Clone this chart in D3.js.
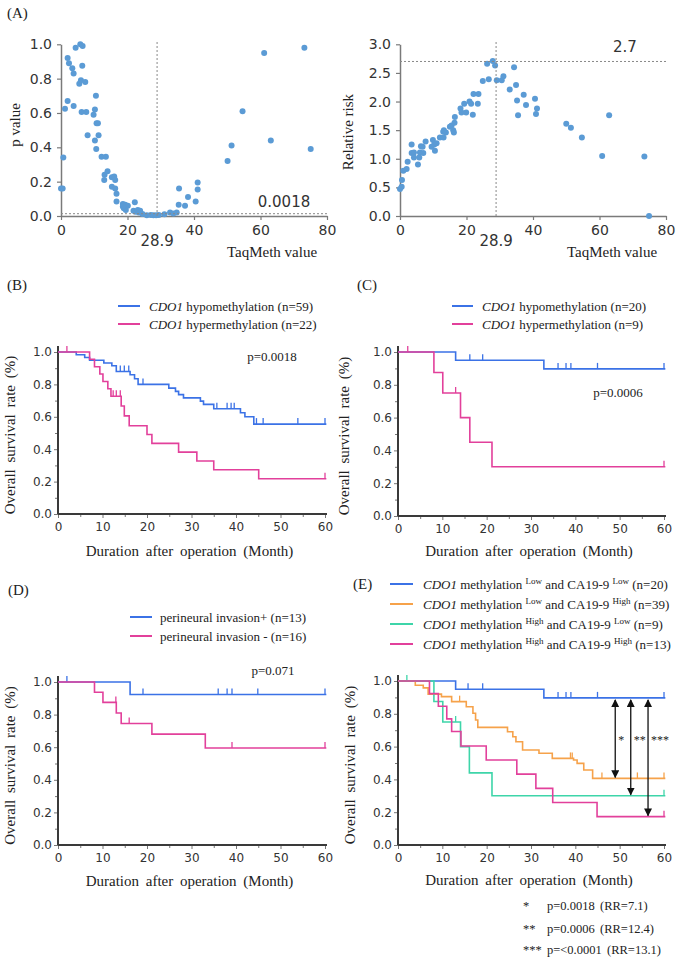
<!DOCTYPE html>
<html><head><meta charset="utf-8">
<script src="https://cdn.jsdelivr.net/npm/d3@7"></script>
<style>
body{margin:0;background:#fff;}
svg{display:block;}
</style></head><body>
<svg id="c" width="677" height="960"></svg>
<script>
// ---------- Panel A data ----------
const pTaq = [0,0.5,0.7,1.2,2.0,2.0,2.4,3.4,3.8,3.8,4.4,5.5,5.8,6.0,6.5,6.4,6.2,7.3,7.6,8.0,9.8,10.2,10.5,10.2,10.7,11.1,10.6,11.3,12.2,13.5,13.1,13.0,14.0,15.3,16.0,16.3,15.3,16.3,16.7,16.7,18.6,19.3,20.1,18.9,19.5,18.6,21.8,22.2,22.4,23.1,23.4,23.8,24.5,25.8,27.0,27.8,28.6,29.4,31.1,32.8,33.8,34.8,35.5,35.4,37.3,38.2,40.5,41.1,41.1,50.1,51.3,54.6,61.1,63.1,73.2,75.1];
const pVal = [0.16,0.16,0.34,0.625,0.67,0.92,0.89,0.86,0.83,0.64,0.98,0.77,1.0,0.79,0.99,0.875,0.605,0.78,0.605,0.47,0.59,0.62,0.70,0.44,0.54,0.54,0.39,0.47,0.345,0.345,0.24,0.21,0.26,0.225,0.23,0.21,0.17,0.16,0.13,0.085,0.07,0.065,0.06,0.045,0.035,0.055,0.03,0.08,0.025,0.035,0.02,0.03,0.012,0.004,0.006,0.004,0.004,0.006,0.01,0.02,0.015,0.02,0.16,0.065,0.06,0.11,0.085,0.195,0.155,0.32,0.41,0.61,0.95,0.44,0.98,0.39];
const rrTaq = [0,0.5,0.6,1.0,2.0,2.3,3.5,3.5,4.2,4.2,5.4,5.8,6.0,6.3,6.8,7.0,7.7,9.5,9.9,10.3,10.5,11.0,12.0,13.1,13.0,13.2,13.8,15.0,15.5,16.0,16.2,16.4,16.5,18.2,18.5,19.3,19.9,20.9,21.4,21.9,22.1,23.6,23.4,24.9,26.2,26.7,27.9,28.6,29.1,30.6,31.1,33.0,34.3,34.9,35.2,35.5,37.2,37.9,40.6,40.9,41.2,50.0,51.4,54.7,60.8,62.9,73.5,74.9];
const rrVal = [0.47,0.51,0.63,0.79,0.82,0.95,1.25,1.1,1.11,1.02,0.90,1.02,1.11,1.22,1.21,1.1,1.3,1.21,1.33,1.25,1.14,1.27,1.37,1.37,1.47,1.5,1.46,1.56,1.58,1.5,1.46,1.63,1.73,1.88,1.81,1.96,1.81,2.0,1.96,1.77,2.13,2.13,1.96,2.36,2.66,2.39,2.71,2.63,2.37,2.37,2.44,2.21,2.6,2.29,2.02,1.76,2.12,1.94,2.05,1.78,1.88,1.61,1.54,1.37,1.05,1.76,1.04,0.0];
const taqTicks = [0,20,40,60,80];
const pTicks = [0,0.2,0.4,0.6,0.8,1.0];
const rrTicks = [0,0.5,1.0,1.5,2.0,2.5,3.0];
const cutoff = 28.9, pMin = 0.0018, rrMax = 2.7;

// ---------- KM data ----------
const kmXTicks = [0,10,20,30,40,50,60];
const kmYTicks = [0,0.2,0.4,0.6,0.8,1.0];
// B
const bHypoT = [4.1,6.0,7.1,10.3,12.1,13.1,16.2,17.2,18.0,24.9,26.4,27.1,28.2,32.0,32.7,35.0,41.0,42.0,44.0];
const bHypoS = [0.983,0.966,0.949,0.932,0.915,0.88,0.86,0.835,0.80,0.777,0.757,0.737,0.717,0.697,0.677,0.65,0.625,0.60,0.555];
const bHypoC = [14.0,14.9,15.9,19.1,35.7,38.0,38.9,39.6,44.6,46.1,53.9,60.0];
const bHyperT = [7.1,8.2,9.4,10.1,11.2,11.9,14.2,14.9,16.0,20.0,21.1,27.1,31.2,35.0,45.1];
const bHyperS = [0.955,0.909,0.864,0.818,0.773,0.727,0.667,0.606,0.545,0.491,0.436,0.382,0.327,0.273,0.218];
const bHyperC = [2.0,12.4,13.1,14.0,60.0];
// C
const cHypoT = [13.0,32.9];
const cHypoS = [0.95,0.897];
const cHypoC = [16.2,19.1,36.1,37.9,39.0,45.0,60.0];
const cHyperT = [8.1,10.1,14.1,16.2,21.2];
const cHyperS = [0.875,0.75,0.60,0.45,0.30];
const cHyperC = [2.2,13.0,60.0];
// D
const dPosT = [16.2];
const dPosS = [0.923];
const dPosC = [2.0,19.1,36.0,38.0,39.1,44.9,60.0];
const dNegT = [8.2,10.1,13.1,14.2,21.1,33.1];
const dNegS = [0.9375,0.875,0.81,0.745,0.68,0.595];
const dNegC = [13.0,16.0,39.1,60.0];
// E
const eLLT = [13.0,32.9];
const eLLS = [0.95,0.897];
const eLLC = [15.8,19.1,36.1,37.9,39.0,45.0,60.0];
const eLHT = [3.9,5.7,6.8,9.8,12.1,15.4,16.9,17.5,18.0,24.7,25.9,26.6,28.1,31.8,34.8,39.6,40.4,41.9,43.9];
const eLHS = [0.974,0.958,0.92,0.905,0.874,0.843,0.803,0.762,0.717,0.691,0.66,0.63,0.579,0.559,0.528,0.518,0.498,0.457,0.406];
const eLHC = [13.9,38.9,39.3,46.0,54.0,60.0];
const eHLT = [8.1,10.1,14.1,16.1,21.2];
const eHLS = [0.875,0.75,0.60,0.44,0.30];
const eHLC = [2.0,13.0,60.0];
const eHHT = [7.1,9.1,11.0,12.1,14.2,19.9,26.8,31.1,34.9,44.9];
const eHHS = [0.923,0.846,0.769,0.692,0.604,0.518,0.432,0.345,0.259,0.173];
const eHHC = [60.0];
const arrowMonths = [49.0,52.5,56.4];
const arrowLabels = ['*','**','***'];
const statStars = ['*','**','***'];
const statP = ['p=0.0018','p=0.0006','p=<0.0001'];
const statRR = ['(RR=7.1)','(RR=12.4)','(RR=13.1)'];

// ---------- style ----------
const BLUE = '#3b72e6', MAG = '#e2409b', ORA = '#f6a24a', TEAL = '#3ed5a9', DOT = '#5b9bd5';
const SERIF = '"Liberation Serif","Times New Roman",serif';
const SANS = '"DejaVu Sans",Verdana,sans-serif';

const svg = d3.select('#c');

function text(x, y, s, opt = {}) {
  const t = svg.append('text').attr('x', x).attr('y', y).text(s)
    .attr('font-family', opt.font || SERIF).attr('font-size', opt.size || 15)
    .attr('fill', opt.fill || '#222').attr('text-anchor', opt.anchor || 'start')
    .attr('dominant-baseline', 'central');
  if (opt.ws) t.attr('word-spacing', opt.ws);
  if (opt.rotate) t.attr('transform', `rotate(-90,${x},${y})`);
  return t;
}

// ---------- Panel A ----------
function scatterPanel(o) {
  const x = d3.scaleLinear().domain([0, 80]).range([o.xl, o.xr]);
  const y = d3.scaleLinear().domain([0, o.ymax]).range([216, 44.3]);
  const g = svg.append('g');
  const axColor = '#7a7a7a';
  const gx = g.append('g').attr('transform', 'translate(0,216)')
    .call(d3.axisBottom(x).tickValues(taqTicks).tickSize(4).tickPadding(5).tickSizeOuter(0));
  const gy = g.append('g').attr('transform', `translate(${o.xl},0)`)
    .call(d3.axisLeft(y).tickValues(o.ticks).tickFormat(d3.format('.1f')).tickSize(4).tickPadding(5).tickSizeOuter(0));
  [gx, gy].forEach(a => {
    a.selectAll('.domain').attr('stroke', axColor).attr('stroke-width', 1.5);
    a.selectAll('.tick line').attr('stroke', axColor).attr('stroke-width', 1.2);
    a.selectAll('.tick text').attr('font-family', SANS).attr('font-size', 14).attr('fill', '#333');
  });
  g.selectAll('circle').data(o.xs).join('circle')
    .attr('cx', d => x(d)).attr('cy', (d, i) => y(o.ys[i])).attr('r', 3).attr('fill', DOT);
  // dashed reference lines
  g.append('line').attr('x1', x(cutoff)).attr('x2', x(cutoff)).attr('y1', 42).attr('y2', 216)
    .attr('stroke', '#888').attr('stroke-dasharray', '2,2').attr('stroke-width', 1);
  g.append('line').attr('x1', o.xl).attr('x2', o.xr).attr('y1', y(o.href) - o.hoff).attr('y2', y(o.href) - o.hoff)
    .attr('stroke', '#888').attr('stroke-dasharray', '2,2').attr('stroke-width', 1);
  text(x(cutoff), 241, String(cutoff), { font: SANS, size: 15, anchor: 'middle', fill: '#333' });
  return { x, y };
}
const A1 = scatterPanel({ xl: 61, xr: 327, ymax: 1, ticks: pTicks, xs: pTaq, ys: pVal, href: pMin, hoff: 2 });
const A2 = scatterPanel({ xl: 400, xr: 666, ymax: 3, ticks: rrTicks, xs: rrTaq, ys: rrVal, href: rrMax, hoff: 0 });
text(284, 202, String(pMin), { font: SANS, size: 15, anchor: 'middle', fill: '#333' });
text(625, 47, String(rrMax), { font: SANS, size: 15, anchor: 'middle', fill: '#333' });
text(15, 125, 'p value', { rotate: true, anchor: 'middle' });
text(348, 132, 'Relative  risk', { rotate: true, anchor: 'middle' });
text(272, 252, 'TaqMeth  value', { anchor: 'middle' });
text(612, 252, 'TaqMeth  value', { anchor: 'middle' });

// ---------- KM panels ----------
function survAt(T, S, t) {
  const i = d3.bisectRight(T, t);
  return i === 0 ? 1 : S[i - 1];
}
function kmPanel(o) {
  const x = d3.scaleLinear().domain([0, 60]).range([o.xl, o.xr]);
  const y = d3.scaleLinear().domain([0, 1]).range([o.yb, o.yt]);
  const g = svg.append('g');
  const ax = '#3a3a3a';
  const minorX = g.append('g').attr('transform', `translate(0,${o.yb})`)
    .call(d3.axisBottom(x).tickValues(d3.range(5, 60, 10)).tickSize(3).tickFormat(''));
  const gx = g.append('g').attr('transform', `translate(0,${o.yb})`)
    .call(d3.axisBottom(x).tickValues(kmXTicks).tickSize(4).tickPadding(4));
  const minorY = g.append('g').attr('transform', `translate(${o.xl},0)`)
    .call(d3.axisLeft(y).tickValues([0.1, 0.3, 0.5, 0.7, 0.9]).tickSize(3).tickFormat(''));
  const gy = g.append('g').attr('transform', `translate(${o.xl},0)`)
    .call(d3.axisLeft(y).tickValues(kmYTicks).tickFormat(d3.format('.1f')).tickSize(4).tickPadding(2));
  [minorX, gx, minorY, gy].forEach(a => {
    a.select('.domain').remove();
    a.selectAll('.tick line').attr('stroke', '#777').attr('stroke-width', 1);
    a.selectAll('.tick text').attr('font-family', SANS).attr('font-size', 12).attr('fill', '#333');
  });
  g.append('line').attr('x1', o.xl).attr('x2', x(60) + 2).attr('y1', o.yb).attr('y2', o.yb)
    .attr('stroke', ax).attr('stroke-width', 2);
  g.append('line').attr('x1', o.xl).attr('x2', o.xl).attr('y1', o.yb).attr('y2', y(1) - 6)
    .attr('stroke', ax).attr('stroke-width', 2);
  const line = d3.line().x(d => x(d[0])).y(d => y(d[1])).curve(d3.curveStepAfter);
  o.series.forEach(s => {
    const pts = [[0, 1]].concat(s.T.map((t, i) => [t, s.S[i]]));
    pts.push([60.3, s.S[s.S.length - 1]]);
    g.append('path').attr('d', line(pts)).attr('fill', 'none').attr('stroke', s.color).attr('stroke-width', 1.6);
    g.selectAll(null).data(s.C).join('line')
      .attr('x1', d => x(d)).attr('x2', d => x(d))
      .attr('y1', d => y(survAt(s.T, s.S, d))).attr('y2', d => y(survAt(s.T, s.S, d)) - 6)
      .attr('stroke', s.color).attr('stroke-width', 1.3);
  });
  text((o.xl + o.xr) / 2 - 2, o.titleY, 'Duration after operation (Month)', { anchor: 'middle', ws: 3 });
  text(o.ylabX, (o.yb + o.yt) / 2 + 2, 'Overall survival rate (%)', { anchor: 'middle', ws: 3, rotate: true });
  return { x, y, g };
}
function legend(rows, lx1, lx2, tx) {
  rows.forEach(r => {
    svg.append('line').attr('x1', lx1).attr('x2', lx2).attr('y1', r.y).attr('y2', r.y)
      .attr('stroke', r.color).attr('stroke-width', 2);
    const t = svg.append('text').attr('x', tx).attr('y', r.y + 4.5)
      .attr('font-family', SERIF).attr('font-size', 13).attr('fill', '#222');
    r.parts.forEach(p => {
      const ts = t.append('tspan').text(p.t);
      if (p.i) ts.attr('font-style', 'italic');
      if (p.sup) ts.attr('font-size', 9).attr('dy', -5);
      if (p.down) ts.attr('dy', 5);
    });
  });
}

// B
kmPanel({ xl: 58, xr: 325, yb: 514, yt: 352, titleY: 551, ylabX: 10,
  series: [{ T: bHypoT, S: bHypoS, C: bHypoC, color: BLUE }, { T: bHyperT, S: bHyperS, C: bHyperC, color: MAG }] });
legend([
  { y: 306, color: BLUE, parts: [{ t: 'CDO1', i: true }, { t: ' hypomethylation (n=59)' }] },
  { y: 324, color: MAG, parts: [{ t: 'CDO1', i: true }, { t: ' hypermethylation (n=22)' }] }], 118, 140, 149);
text(272, 356, 'p=0.0018', { size: 13, anchor: 'middle' });
text(7, 13, '(A)', { size: 15 });
text(7, 285, '(B)', { size: 15 });

// C
kmPanel({ xl: 398, xr: 664, yb: 516, yt: 352, titleY: 551, ylabX: 344,
  series: [{ T: cHypoT, S: cHypoS, C: cHypoC, color: BLUE }, { T: cHyperT, S: cHyperS, C: cHyperC, color: MAG }] });
legend([
  { y: 306, color: BLUE, parts: [{ t: 'CDO1', i: true }, { t: ' hypomethylation (n=20)' }] },
  { y: 324, color: MAG, parts: [{ t: 'CDO1', i: true }, { t: ' hypermethylation (n=9)' }] }], 452, 473, 482);
text(618, 392, 'p=0.0006', { size: 13, anchor: 'middle' });
text(357, 285, '(C)', { size: 15 });

// D
kmPanel({ xl: 58, xr: 325, yb: 845, yt: 682, titleY: 881, ylabX: 10,
  series: [{ T: dPosT, S: dPosS, C: dPosC, color: BLUE }, { T: dNegT, S: dNegS, C: dNegC, color: MAG }] });
legend([
  { y: 617, color: BLUE, parts: [{ t: 'perineural invasion+ (n=13)' }] },
  { y: 636, color: MAG, parts: [{ t: 'perineural invasion - (n=16)' }] }], 130, 152, 160);
text(273, 670, 'p=0.071', { size: 13, anchor: 'middle' });
text(8, 590, '(D)', { size: 15 });

// E
const E = kmPanel({ xl: 398, xr: 664, yb: 845, yt: 681, titleY: 880, ylabX: 350,
  series: [{ T: eLLT, S: eLLS, C: eLLC, color: BLUE }, { T: eLHT, S: eLHS, C: eLHC, color: ORA },
           { T: eHLT, S: eHLS, C: eHLC, color: TEAL }, { T: eHHT, S: eHHS, C: eHHC, color: MAG }] });
legend([
  { y: 584, color: BLUE, parts: [{ t: 'CDO1', i: true }, { t: ' methylation ' }, { t: 'Low', sup: true }, { t: ' and CA19-9  ', down: true }, { t: 'Low', sup: true }, { t: ' (n=20)', down: true }] },
  { y: 604, color: ORA, parts: [{ t: 'CDO1', i: true }, { t: ' methylation ' }, { t: 'Low', sup: true }, { t: ' and CA19-9  ', down: true }, { t: 'High', sup: true }, { t: ' (n=39)', down: true }] },
  { y: 624, color: TEAL, parts: [{ t: 'CDO1', i: true }, { t: ' methylation ' }, { t: 'High', sup: true }, { t: ' and CA19-9  ', down: true }, { t: 'Low', sup: true }, { t: ' (n=9)', down: true }] },
  { y: 644, color: MAG, parts: [{ t: 'CDO1', i: true }, { t: ' methylation ' }, { t: 'High', sup: true }, { t: ' and CA19-9  ', down: true }, { t: 'High', sup: true }, { t: ' (n=13)', down: true }] }], 390, 413, 423);
text(353, 584, '(E)', { size: 15 });

// arrows
svg.append('defs').append('marker').attr('id', 'ah').attr('viewBox', '0 0 10 10')
  .attr('refX', 9).attr('refY', 5).attr('markerWidth', 8).attr('markerHeight', 8)
  .attr('markerUnits', 'userSpaceOnUse').attr('orient', 'auto-start-reverse')
  .append('path').attr('d', 'M0,0 L10,5 L0,10 Z').attr('fill', '#111');
const targets = [[eLHT, eLHS], [eHLT, eHLS], [eHHT, eHHS]];
arrowMonths.forEach((m, i) => {
  const xx = E.x(m);
  const y1 = E.y(survAt(eLLT, eLLS, m)) + 2;
  const y2 = E.y(survAt(targets[i][0], targets[i][1], m)) - 1;
  svg.append('line').attr('x1', xx).attr('x2', xx).attr('y1', y1).attr('y2', y2)
    .attr('stroke', '#111').attr('stroke-width', 1.3)
    .attr('marker-start', 'url(#ah)').attr('marker-end', 'url(#ah)');
  text(xx + 3, 740, arrowLabels[i], { size: 12 });
});
// stats
const statY = [906, 929, 950];
statY.forEach((yy, i) => {
  text(523, yy, statStars[i], { size: 12.5 });
  text(547, yy, statP[i], { size: 12.5 });
  text(i === 2 ? 607 : 600, yy, statRR[i], { size: 12.5 });
});
</script>
</body></html>
